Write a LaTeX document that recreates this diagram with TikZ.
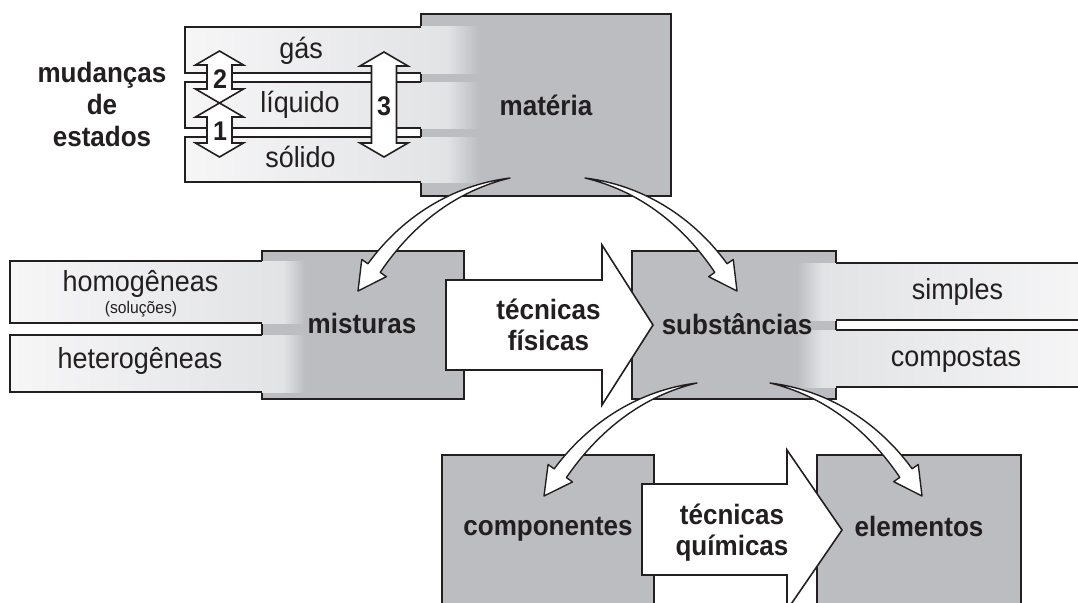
\documentclass[tikz,border=0pt]{standalone}
\usepackage{fontspec}
\setmainfont{Liberation Sans}[FakeStretch=0.93]
\usetikzlibrary{calc}
\definecolor{boxgray}{RGB}{188,189,192}
\definecolor{pnear}{RGB}{226,227,229}
\definecolor{pfar}{RGB}{246,246,247}
\definecolor{ink}{RGB}{35,31,32}
\tikzset{
 ol/.style={draw=ink, line width=1.6pt},
 box/.style={ol, fill=boxgray, rectangle, inner sep=0pt, outer sep=0pt},
 whiteshape/.style={ol, fill=white, line join=miter},
 swooshline/.style={draw=ink, line width=1.4pt, fill=white, line join=round},
 bl/.style={font=\bfseries\fontsize{28}{32}\selectfont, text=ink, inner sep=0pt, anchor=base},
 rl/.style={font=\fontsize{29}{34}\selectfont, text=ink, inner sep=0pt, anchor=base},
 sl/.style={font=\fontsize{16.8}{19}\selectfont, text=ink, inner sep=0pt, anchor=base},
 numl/.style={font=\bfseries\fontsize{27}{30}\selectfont, text=ink, inner sep=0pt, anchor=center},
}
% vertical double arrow: x, top tip, head base 1, head base 2, bottom tip
\newcommand\vdarrow[5]{%
 \draw[whiteshape] (#1,#2) -- (#1+24,#3) -- (#1+12.5,#3) -- (#1+12.5,#4) -- (#1+24,#4)
   -- (#1,#5) -- (#1-24,#4) -- (#1-12.5,#4) -- (#1-12.5,#3) -- (#1-24,#3) -- cycle;}
% tapered curved arrow: tail, control 1, control 2, tip
\newcommand\swoosh[4]{%
 \coordinate (swH) at ($(#4)!28pt!(#3)$);
 \coordinate (swB1) at ($(swH)!7.5pt!90:(#4)$);
 \coordinate (swB2) at ($(swH)!7.5pt!-90:(#4)$);
 \coordinate (swW1) at ($(swH)!15pt!90:(#4)$);
 \coordinate (swW2) at ($(swH)!15pt!-90:(#4)$);
 \coordinate (swCa) at ($(#3)!6.5pt!90:(swH)$);
 \coordinate (swCb) at ($(#3)!6.5pt!-90:(swH)$);
 \coordinate (swDa) at ($(#2)!3.5pt!90:(#3)$);
 \coordinate (swDb) at ($(#2)!3.5pt!-90:(#3)$);
 \draw[swooshline] (#1) .. controls (swDa) and (swCa) .. (swB1) -- (swW1) -- (#4)
   -- (swW2) -- (swB2) .. controls (swCb) and (swDb) .. (#1) -- cycle;}
\begin{document}
\begin{tikzpicture}[x=1pt,y=-1pt]
\useasboundingbox (0,0) rectangle (1078,602);
\clip (0,0) rectangle (1078,602);

% main boxes
\node[box, minimum width=250, minimum height=182] (materia) at (546,105) {};
\node[box, minimum width=202, minimum height=148] (misturas) at (363,325) {};
\node[box, minimum width=204, minimum height=148] (substancias) at (734,325) {};
\node[box, minimum width=212, minimum height=170] (componentes) at (548,540) {};
\node[box, minimum width=204, minimum height=170] (elementos) at (919,540) {};

% state panels (left of materia)
\foreach \ya/\yb in {27/73,82/128,137/182}{
  \shade[left color=pfar, right color=pnear] (185,\ya) rectangle (447,\yb);
  \shade[left color=pnear, right color=boxgray] (447,\ya) rectangle (479,\yb);
  \draw[ol] (421,\ya) -- (185,\ya) -- (185,\yb) -- (421,\yb);
}
% mixture panels (left of misturas)
\foreach \ya/\yb in {261/323,335/392}{
  \shade[left color=pfar, right color=pnear] (10,\ya) rectangle (283,\yb);
  \shade[left color=pnear, right color=boxgray] (283,\ya) rectangle (305,\yb);
  \draw[ol] (262,\ya) -- (10,\ya) -- (10,\yb) -- (262,\yb);
}
% substance panels (right of substancias)
\foreach \ya/\yb in {263/320,330/387}{
  \shade[left color=boxgray, right color=pnear] (797,\ya) rectangle (822,\yb);
  \shade[left color=pnear, right color=pfar] (822,\ya) rectangle (1090,\yb);
  \draw[ol] (836,\ya) -- (1090,\ya);
  \draw[ol] (836,\yb) -- (1090,\yb);
}

% state change arrows
\vdarrow{219.5}{51}{65}{89}{103}
\vdarrow{219.5}{103}{117}{143}{157}
\vdarrow{384}{52}{66}{143}{157}
\node[numl] (n2) at (220,79.5) {2};
\node[numl] (n1) at (220,131.5) {1};
\node[numl] (n3) at (384,106) {3};

% big arrows
\draw[whiteshape] (446,280) -- (602,280) -- (602,245) -- (653,325) -- (602,405) -- (602,370) -- (446,370) -- cycle;
\draw[whiteshape] (642,484) -- (787,484) -- (787,450) -- (842,530) -- (787,610) -- (787,575) -- (642,575) -- cycle;

% labels
\node[bl] (lmat) at (546,115) {matéria};
\node[bl] (lmis) at (362,333.5) {misturas};
\node[bl] (lsub) at (737,334) {substâncias};
\node[bl] (lcomp) at (548,535.5) {componentes};
\node[bl] (lelem) at (919,536.5) {elementos};
\node[bl] (lmud1) at (102,82) {mudanças};
\node[bl] (lmud2) at (102,114.5) {de};
\node[bl] (lmud3) at (102,146.5) {estados};
\node[bl] (ltf1) at (548.5,319.5) {técnicas};
\node[bl] (ltf2) at (548.5,350.5) {físicas};
\node[bl] (ltq1) at (732,524) {técnicas};
\node[bl] (ltq2) at (732,555) {químicas};
\node[rl] (lgas) at (301,58.5) {gás};
\node[rl] (lliq) at (300,112.5) {líquido};
\node[rl] (lsol) at (300.5,167.5) {sólido};
\node[rl] (lhom) at (140.5,291.5) {homogêneas};
\node[sl] (lsolu) at (141,313) {(soluções)};
\node[rl] (lhet) at (140,368) {heterogêneas};
\node[rl] (lsim) at (957.5,299) {simples};
\node[rl] (lcmp) at (956,366) {compostas};

% curved arrows
\coordinate (tA) at ($(materia.south)+(-36,-18)$);
\coordinate (pA) at ($(misturas.north)+(-5,40)$);
\coordinate (tB) at ($(materia.south)+(39,-18)$);
\coordinate (pB) at ($(substancias.north)+(3,40)$);
\coordinate (tC) at ($(substancias.south)+(-37,-16)$);
\coordinate (pC) at ($(componentes.north)+(-4,41)$);
\coordinate (tD) at ($(substancias.south)+(36,-16)$);
\coordinate (pD) at ($(elementos.north)+(3,41)$);
\swoosh{tA}{454,188}{407,221}{pA}
\swoosh{tB}{641,188}{688,221}{pB}
\swoosh{tC}{641,393}{594,426}{pC}
\swoosh{tD}{826,393}{873,426}{pD}
\end{tikzpicture}
\end{document}
